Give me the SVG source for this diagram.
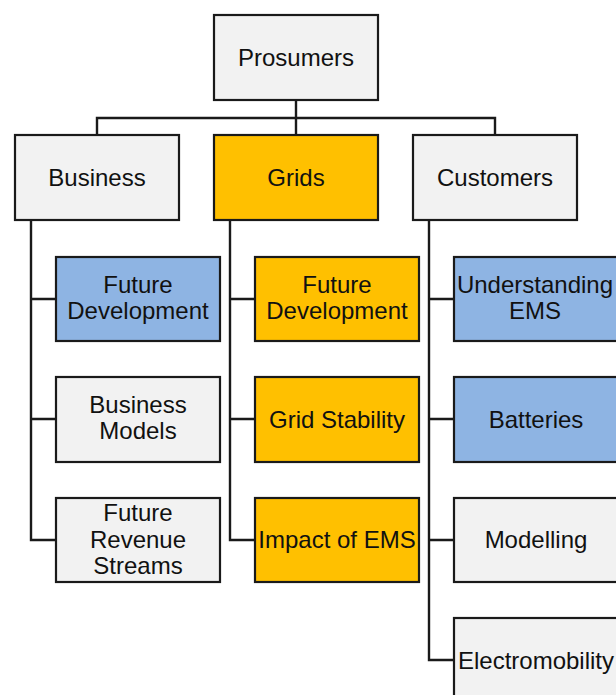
<svg xmlns="http://www.w3.org/2000/svg" width="616" height="695" viewBox="0 0 616 695">
<style>
rect{stroke:#1a1a1a;stroke-width:2.2}
.g{fill:#f2f2f2}.o{fill:#ffc000}.b{fill:#8eb4e3}
text{font-family:"Liberation Sans",Arial,sans-serif;font-size:24px;fill:#111;text-anchor:middle}
#connectors path{fill:none;stroke:#1a1a1a;stroke-width:2.4}
</style>
<rect x="0" y="0" width="616" height="695" fill="#fff" style="stroke:none"/>
<g id="connectors">
<path d="M296 100V118M97 135V118H495V135M296 118V135"/>
<path d="M31 220V540H56M31 299H56M31 419H56"/>
<path d="M230 220V540H255M230 299H255M230 419H255"/>
<path d="M429 220V660H454M429 299H454M429 419H454M429 540H454"/>
</g>
<g id="prosumers"><rect class="g" x="214" y="15" width="164" height="85"/><text x="296" y="66">Prosumers</text></g>
<g id="business"><rect class="g" x="15" y="135" width="164" height="85"/><text x="97" y="186">Business</text></g>
<g id="grids"><rect class="o" x="214" y="135" width="164" height="85"/><text x="296" y="186">Grids</text></g>
<g id="customers"><rect class="g" x="413" y="135" width="164" height="85"/><text x="495" y="186">Customers</text></g>
<g id="b-future-dev"><rect class="b" x="56" y="257" width="164" height="84"/><text x="138" y="293">Future</text><text x="138" y="319">Development</text></g>
<g id="b-models"><rect class="g" x="56" y="377" width="164" height="85"/><text x="138" y="413">Business</text><text x="138" y="439">Models</text></g>
<g id="b-revenue"><rect class="g" x="56" y="498" width="164" height="84"/><text x="138" y="521">Future</text><text x="138" y="547.5">Revenue</text><text x="138" y="574">Streams</text></g>
<g id="g-future-dev"><rect class="o" x="255" y="257" width="164" height="84"/><text x="337" y="293">Future</text><text x="337" y="319">Development</text></g>
<g id="g-stability"><rect class="o" x="255" y="377" width="164" height="85"/><text x="337" y="427.5">Grid Stability</text></g>
<g id="g-impact"><rect class="o" x="255" y="498" width="164" height="84"/><text x="337" y="548">Impact of EMS</text></g>
<g id="c-understanding"><rect class="b" x="454" y="257" width="164" height="84"/><text x="535" y="292.5">Understanding</text><text x="535" y="318.5">EMS</text></g>
<g id="c-batteries"><rect class="b" x="454" y="377" width="164" height="85"/><text x="536" y="427.5">Batteries</text></g>
<g id="c-modelling"><rect class="g" x="454" y="498" width="164" height="84"/><text x="536" y="548">Modelling</text></g>
<g id="c-electromobility"><rect class="g" x="454" y="618" width="164" height="84"/><text x="536" y="668.5">Electromobility</text></g>
</svg>
